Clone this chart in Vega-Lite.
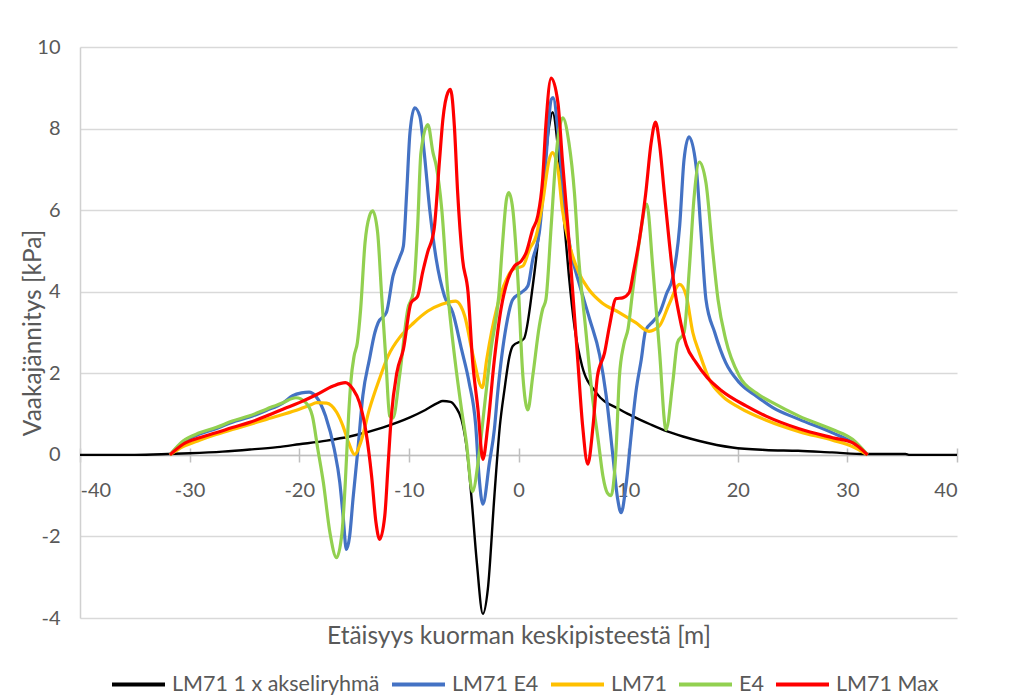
{
  "$schema": "https://vega.github.io/schema/vega-lite/v6.json",
  "width": 877,
  "height": 571,
  "autosize": {"type": "none"},
  "padding": {"left": 80, "top": 47, "right": 62, "bottom": 81},
  "background": "white",
  "config": {
    "font": "Lato",
    "view": {"stroke": null},
    "axis": {"labelFont": "Lato", "titleFont": "Lato"},
    "legend": {"labelFont": "Lato"}
  },
  "data": {"values": [
    {"s":"LM71 1 x akseliryhmä","x":-40,"y":0},{"s":"LM71 1 x akseliryhmä","x":-35,"y":0},{"s":"LM71 1 x akseliryhmä","x":-32,"y":0.02},{"s":"LM71 1 x akseliryhmä","x":-30,"y":0.04},{"s":"LM71 1 x akseliryhmä","x":-27,"y":0.08},{"s":"LM71 1 x akseliryhmä","x":-24.5,"y":0.13},{"s":"LM71 1 x akseliryhmä","x":-22,"y":0.19},{"s":"LM71 1 x akseliryhmä","x":-20,"y":0.26},{"s":"LM71 1 x akseliryhmä","x":-17.5,"y":0.35},{"s":"LM71 1 x akseliryhmä","x":-15.4,"y":0.45},{"s":"LM71 1 x akseliryhmä","x":-12.4,"y":0.67},{"s":"LM71 1 x akseliryhmä","x":-9.9,"y":0.92},{"s":"LM71 1 x akseliryhmä","x":-8.5,"y":1.1},{"s":"LM71 1 x akseliryhmä","x":-7.4,"y":1.27},{"s":"LM71 1 x akseliryhmä","x":-6.9,"y":1.32},{"s":"LM71 1 x akseliryhmä","x":-6.2,"y":1.3},{"s":"LM71 1 x akseliryhmä","x":-5.7,"y":1.16},{"s":"LM71 1 x akseliryhmä","x":-5.2,"y":0.87},{"s":"LM71 1 x akseliryhmä","x":-4.75,"y":0.22},{"s":"LM71 1 x akseliryhmä","x":-4.3,"y":-1.01},{"s":"LM71 1 x akseliryhmä","x":-3.8,"y":-2.64},{"s":"LM71 1 x akseliryhmä","x":-3.25,"y":-3.9},{"s":"LM71 1 x akseliryhmä","x":-2.8,"y":-3.3},{"s":"LM71 1 x akseliryhmä","x":-2.2,"y":-1.01},{"s":"LM71 1 x akseliryhmä","x":-1.7,"y":0.71},{"s":"LM71 1 x akseliryhmä","x":-1.28,"y":1.6},{"s":"LM71 1 x akseliryhmä","x":-0.82,"y":2.42},{"s":"LM71 1 x akseliryhmä","x":-0.52,"y":2.67},{"s":"LM71 1 x akseliryhmä","x":0.5,"y":2.85},{"s":"LM71 1 x akseliryhmä","x":1.3,"y":4.14},{"s":"LM71 1 x akseliryhmä","x":1.6,"y":4.79},{"s":"LM71 1 x akseliryhmä","x":2.2,"y":6.43},{"s":"LM71 1 x akseliryhmä","x":2.8,"y":8.06},{"s":"LM71 1 x akseliryhmä","x":3.1,"y":8.4},{"s":"LM71 1 x akseliryhmä","x":3.7,"y":7.24},{"s":"LM71 1 x akseliryhmä","x":4.2,"y":5.61},{"s":"LM71 1 x akseliryhmä","x":4.6,"y":4.38},{"s":"LM71 1 x akseliryhmä","x":5.1,"y":3.16},{"s":"LM71 1 x akseliryhmä","x":5.8,"y":2.18},{"s":"LM71 1 x akseliryhmä","x":7.1,"y":1.52},{"s":"LM71 1 x akseliryhmä","x":9.2,"y":1.12},{"s":"LM71 1 x akseliryhmä","x":10.4,"y":0.95},{"s":"LM71 1 x akseliryhmä","x":12,"y":0.75},{"s":"LM71 1 x akseliryhmä","x":13.5,"y":0.58},{"s":"LM71 1 x akseliryhmä","x":15,"y":0.45},{"s":"LM71 1 x akseliryhmä","x":16.5,"y":0.34},{"s":"LM71 1 x akseliryhmä","x":19.5,"y":0.18},{"s":"LM71 1 x akseliryhmä","x":22.5,"y":0.12},{"s":"LM71 1 x akseliryhmä","x":25.5,"y":0.1},{"s":"LM71 1 x akseliryhmä","x":28.6,"y":0.06},{"s":"LM71 1 x akseliryhmä","x":31.7,"y":0.02},{"s":"LM71 1 x akseliryhmä","x":35.3,"y":0.02},{"s":"LM71 1 x akseliryhmä","x":35.6,"y":0},{"s":"LM71 1 x akseliryhmä","x":40,"y":0},

    {"s":"LM71 E4","x":-31.8,"y":0},{"s":"LM71 E4","x":-30.6,"y":0.31},{"s":"LM71 E4","x":-29.1,"y":0.51},{"s":"LM71 E4","x":-27.6,"y":0.64},{"s":"LM71 E4","x":-26.1,"y":0.8},{"s":"LM71 E4","x":-24.6,"y":0.92},{"s":"LM71 E4","x":-23,"y":1.09},{"s":"LM71 E4","x":-21.5,"y":1.27},{"s":"LM71 E4","x":-20.6,"y":1.45},{"s":"LM71 E4","x":-19.8,"y":1.52},{"s":"LM71 E4","x":-19.1,"y":1.54},{"s":"LM71 E4","x":-18.5,"y":1.44},{"s":"LM71 E4","x":-17.6,"y":0.95},{"s":"LM71 E4","x":-16.8,"y":0.13},{"s":"LM71 E4","x":-16.3,"y":-0.68},{"s":"LM71 E4","x":-16,"y":-1.5},{"s":"LM71 E4","x":-15.7,"y":-2.32},{"s":"LM71 E4","x":-15.4,"y":-1.99},{"s":"LM71 E4","x":-15.1,"y":-1.09},{"s":"LM71 E4","x":-14.65,"y":0.13},{"s":"LM71 E4","x":-14.2,"y":1.45},{"s":"LM71 E4","x":-13.6,"y":2.34},{"s":"LM71 E4","x":-13.1,"y":3.0},{"s":"LM71 E4","x":-12.8,"y":3.24},{"s":"LM71 E4","x":-12.05,"y":3.49},{"s":"LM71 E4","x":-11.45,"y":4.38},{"s":"LM71 E4","x":-10.8,"y":4.87},{"s":"LM71 E4","x":-10.5,"y":5.12},{"s":"LM71 E4","x":-10.2,"y":6.43},{"s":"LM71 E4","x":-9.9,"y":7.9},{"s":"LM71 E4","x":-9.48,"y":8.51},{"s":"LM71 E4","x":-9.0,"y":8.3},{"s":"LM71 E4","x":-8.6,"y":7.41},{"s":"LM71 E4","x":-8.1,"y":6.02},{"s":"LM71 E4","x":-7.5,"y":4.79},{"s":"LM71 E4","x":-6.75,"y":3.89},{"s":"LM71 E4","x":-6.0,"y":3.49},{"s":"LM71 E4","x":-5.2,"y":2.59},{"s":"LM71 E4","x":-4.5,"y":1.77},{"s":"LM71 E4","x":-3.9,"y":0.71},{"s":"LM71 E4","x":-3.6,"y":-0.52},{"s":"LM71 E4","x":-3.25,"y":-1.21},{"s":"LM71 E4","x":-2.65,"y":-0.19},{"s":"LM71 E4","x":-2.2,"y":0.63},{"s":"LM71 E4","x":-1.9,"y":1.52},{"s":"LM71 E4","x":-1.12,"y":3.16},{"s":"LM71 E4","x":-0.52,"y":3.81},{"s":"LM71 E4","x":0.25,"y":3.98},{"s":"LM71 E4","x":0.85,"y":4.14},{"s":"LM71 E4","x":1.3,"y":4.79},{"s":"LM71 E4","x":1.9,"y":5.45},{"s":"LM71 E4","x":2.5,"y":7.24},{"s":"LM71 E4","x":2.98,"y":8.71},{"s":"LM71 E4","x":3.15,"y":8.76},{"s":"LM71 E4","x":3.7,"y":7.65},{"s":"LM71 E4","x":4.2,"y":6.02},{"s":"LM71 E4","x":4.8,"y":4.96},{"s":"LM71 E4","x":5.6,"y":4.14},{"s":"LM71 E4","x":6.5,"y":3.32},{"s":"LM71 E4","x":7.4,"y":2.45},{"s":"LM71 E4","x":8.0,"y":1.45},{"s":"LM71 E4","x":8.6,"y":0.0},{"s":"LM71 E4","x":9.05,"y":-1.09},{"s":"LM71 E4","x":9.36,"y":-1.42},{"s":"LM71 E4","x":9.8,"y":-0.76},{"s":"LM71 E4","x":10.3,"y":0.54},{"s":"LM71 E4","x":10.7,"y":1.52},{"s":"LM71 E4","x":11.2,"y":2.34},{"s":"LM71 E4","x":11.6,"y":3.05},{"s":"LM71 E4","x":12.3,"y":3.28},{"s":"LM71 E4","x":12.9,"y":3.5},{"s":"LM71 E4","x":13.5,"y":3.95},{"s":"LM71 E4","x":14.1,"y":4.38},{"s":"LM71 E4","x":14.7,"y":5.61},{"s":"LM71 E4","x":15.1,"y":7.24},{"s":"LM71 E4","x":15.55,"y":7.8},{"s":"LM71 E4","x":16.2,"y":7.08},{"s":"LM71 E4","x":16.65,"y":5.45},{"s":"LM71 E4","x":17.1,"y":3.81},{"s":"LM71 E4","x":17.9,"y":3.0},{"s":"LM71 E4","x":18.9,"y":2.26},{"s":"LM71 E4","x":20.15,"y":1.77},{"s":"LM71 E4","x":21.7,"y":1.44},{"s":"LM71 E4","x":23.2,"y":1.16},{"s":"LM71 E4","x":25.6,"y":0.87},{"s":"LM71 E4","x":28.65,"y":0.54},{"s":"LM71 E4","x":30.5,"y":0.3},{"s":"LM71 E4","x":31.84,"y":0},

    {"s":"LM71","x":-31.8,"y":0},{"s":"LM71","x":-30.6,"y":0.2},{"s":"LM71","x":-29.1,"y":0.36},{"s":"LM71","x":-27.6,"y":0.5},{"s":"LM71","x":-26.1,"y":0.62},{"s":"LM71","x":-24.6,"y":0.74},{"s":"LM71","x":-23,"y":0.87},{"s":"LM71","x":-21.5,"y":0.99},{"s":"LM71","x":-20,"y":1.12},{"s":"LM71","x":-19,"y":1.22},{"s":"LM71","x":-18.4,"y":1.28},{"s":"LM71","x":-17.5,"y":1.27},{"s":"LM71","x":-16.6,"y":1.05},{"s":"LM71","x":-16.0,"y":0.7},{"s":"LM71","x":-15.5,"y":0.3},{"s":"LM71","x":-14.95,"y":0.01},{"s":"LM71","x":-14.4,"y":0.3},{"s":"LM71","x":-13.6,"y":1.12},{"s":"LM71","x":-12.7,"y":1.85},{"s":"LM71","x":-11.9,"y":2.42},{"s":"LM71","x":-10.75,"y":2.91},{"s":"LM71","x":-9.55,"y":3.24},{"s":"LM71","x":-8.3,"y":3.52},{"s":"LM71","x":-7.0,"y":3.69},{"s":"LM71","x":-5.75,"y":3.77},{"s":"LM71","x":-4.9,"y":3.4},{"s":"LM71","x":-4.2,"y":2.5},{"s":"LM71","x":-3.3,"y":1.65},{"s":"LM71","x":-2.9,"y":2.34},{"s":"LM71","x":-2.0,"y":3.57},{"s":"LM71","x":-1.1,"y":4.3},{"s":"LM71","x":-0.52,"y":4.55},{"s":"LM71","x":0.4,"y":4.63},{"s":"LM71","x":1.0,"y":5.04},{"s":"LM71","x":1.6,"y":5.36},{"s":"LM71","x":2.2,"y":6.18},{"s":"LM71","x":2.8,"y":7.24},{"s":"LM71","x":3.1,"y":7.41},{"s":"LM71","x":3.6,"y":7.0},{"s":"LM71","x":4.0,"y":6.02},{"s":"LM71","x":4.6,"y":5.2},{"s":"LM71","x":5.5,"y":4.47},{"s":"LM71","x":6.4,"y":4.06},{"s":"LM71","x":7.6,"y":3.73},{"s":"LM71","x":9.2,"y":3.49},{"s":"LM71","x":10.7,"y":3.24},{"s":"LM71","x":11.9,"y":3.03},{"s":"LM71","x":12.85,"y":3.16},{"s":"LM71","x":13.75,"y":3.7},{"s":"LM71","x":14.7,"y":4.18},{"s":"LM71","x":15.3,"y":3.9},{"s":"LM71","x":15.9,"y":3.0},{"s":"LM71","x":16.5,"y":2.5},{"s":"LM71","x":17.4,"y":1.85},{"s":"LM71","x":18.6,"y":1.44},{"s":"LM71","x":20.15,"y":1.16},{"s":"LM71","x":22.6,"y":0.85},{"s":"LM71","x":25.6,"y":0.57},{"s":"LM71","x":28.65,"y":0.36},{"s":"LM71","x":30.5,"y":0.2},{"s":"LM71","x":31.84,"y":0},

    {"s":"E4","x":-31.8,"y":0},{"s":"E4","x":-30.6,"y":0.34},{"s":"E4","x":-29.1,"y":0.54},{"s":"E4","x":-27.6,"y":0.67},{"s":"E4","x":-26.1,"y":0.83},{"s":"E4","x":-24.6,"y":0.95},{"s":"E4","x":-23,"y":1.12},{"s":"E4","x":-21.5,"y":1.28},{"s":"E4","x":-20.3,"y":1.4},{"s":"E4","x":-19.4,"y":1.28},{"s":"E4","x":-18.8,"y":0.95},{"s":"E4","x":-18.3,"y":0.13},{"s":"E4","x":-17.8,"y":-0.68},{"s":"E4","x":-17.2,"y":-1.91},{"s":"E4","x":-16.6,"y":-2.52},{"s":"E4","x":-16.1,"y":-1.91},{"s":"E4","x":-15.8,"y":-0.68},{"s":"E4","x":-15.5,"y":0.95},{"s":"E4","x":-15.3,"y":1.77},{"s":"E4","x":-15.0,"y":2.42},{"s":"E4","x":-14.7,"y":2.75},{"s":"E4","x":-14.4,"y":3.57},{"s":"E4","x":-14.0,"y":5.2},{"s":"E4","x":-13.6,"y":5.85},{"s":"E4","x":-13.3,"y":5.98},{"s":"E4","x":-12.85,"y":5.45},{"s":"E4","x":-12.5,"y":3.98},{"s":"E4","x":-12.1,"y":2.34},{"s":"E4","x":-11.75,"y":0.95},{"s":"E4","x":-11.45,"y":0.9},{"s":"E4","x":-10.85,"y":1.93},{"s":"E4","x":-10.1,"y":3.57},{"s":"E4","x":-9.6,"y":3.98},{"s":"E4","x":-9.2,"y":5.61},{"s":"E4","x":-8.9,"y":7.41},{"s":"E4","x":-8.27,"y":8.1},{"s":"E4","x":-7.8,"y":7.41},{"s":"E4","x":-7.5,"y":7.08},{"s":"E4","x":-7.0,"y":6.02},{"s":"E4","x":-6.45,"y":3.98},{"s":"E4","x":-5.8,"y":2.34},{"s":"E4","x":-5.2,"y":1.12},{"s":"E4","x":-4.75,"y":0.3},{"s":"E4","x":-4.2,"y":-0.9},{"s":"E4","x":-3.6,"y":0.0},{"s":"E4","x":-3.1,"y":1.2},{"s":"E4","x":-2.5,"y":2.6},{"s":"E4","x":-1.8,"y":3.9},{"s":"E4","x":-1.45,"y":5.2},{"s":"E4","x":-1.1,"y":6.26},{"s":"E4","x":-0.88,"y":6.43},{"s":"E4","x":-0.52,"y":6.02},{"s":"E4","x":-0.07,"y":4.38},{"s":"E4","x":0.4,"y":1.93},{"s":"E4","x":0.85,"y":1.1},{"s":"E4","x":1.3,"y":1.93},{"s":"E4","x":1.9,"y":3.16},{"s":"E4","x":2.2,"y":3.57},{"s":"E4","x":2.5,"y":3.81},{"s":"E4","x":2.98,"y":5.61},{"s":"E4","x":3.4,"y":7.24},{"s":"E4","x":4.04,"y":8.26},{"s":"E4","x":4.6,"y":7.65},{"s":"E4","x":5.1,"y":6.43},{"s":"E4","x":5.5,"y":4.79},{"s":"E4","x":6.1,"y":3.16},{"s":"E4","x":6.7,"y":1.52},{"s":"E4","x":7.3,"y":0.3},{"s":"E4","x":7.7,"y":-0.52},{"s":"E4","x":8.1,"y":-0.93},{"s":"E4","x":8.45,"y":-1.0},{"s":"E4","x":8.9,"y":0.13},{"s":"E4","x":9.2,"y":1.9},{"s":"E4","x":9.6,"y":2.7},{"s":"E4","x":10.0,"y":3.1},{"s":"E4","x":10.4,"y":3.98},{"s":"E4","x":11.0,"y":5.2},{"s":"E4","x":11.7,"y":6.15},{"s":"E4","x":12.24,"y":4.63},{"s":"E4","x":12.85,"y":2.59},{"s":"E4","x":13.46,"y":0.62},{"s":"E4","x":14.07,"y":1.77},{"s":"E4","x":14.5,"y":2.75},{"s":"E4","x":15.1,"y":3.0},{"s":"E4","x":15.6,"y":4.63},{"s":"E4","x":16.0,"y":6.26},{"s":"E4","x":16.5,"y":7.18},{"s":"E4","x":17.1,"y":6.67},{"s":"E4","x":17.7,"y":5.04},{"s":"E4","x":18.2,"y":3.81},{"s":"E4","x":18.9,"y":2.83},{"s":"E4","x":20.15,"y":1.93},{"s":"E4","x":21.67,"y":1.52},{"s":"E4","x":23.18,"y":1.28},{"s":"E4","x":25.6,"y":0.95},{"s":"E4","x":28.65,"y":0.62},{"s":"E4","x":30.47,"y":0.38},{"s":"E4","x":31.84,"y":0},

    {"s":"LM71 Max","x":-31.8,"y":0},{"s":"LM71 Max","x":-30.6,"y":0.26},{"s":"LM71 Max","x":-29.1,"y":0.42},{"s":"LM71 Max","x":-27.6,"y":0.54},{"s":"LM71 Max","x":-26.1,"y":0.67},{"s":"LM71 Max","x":-24.6,"y":0.79},{"s":"LM71 Max","x":-23,"y":0.95},{"s":"LM71 Max","x":-21.5,"y":1.12},{"s":"LM71 Max","x":-20,"y":1.28},{"s":"LM71 Max","x":-18.4,"y":1.48},{"s":"LM71 Max","x":-16.9,"y":1.69},{"s":"LM71 Max","x":-15.8,"y":1.77},{"s":"LM71 Max","x":-15.1,"y":1.61},{"s":"LM71 Max","x":-14.5,"y":1.28},{"s":"LM71 Max","x":-13.9,"y":0.54},{"s":"LM71 Max","x":-13.4,"y":-0.52},{"s":"LM71 Max","x":-13.0,"y":-1.66},{"s":"LM71 Max","x":-12.67,"y":-2.07},{"s":"LM71 Max","x":-12.2,"y":-1.5},{"s":"LM71 Max","x":-11.9,"y":-0.27},{"s":"LM71 Max","x":-11.6,"y":0.95},{"s":"LM71 Max","x":-11.1,"y":2.01},{"s":"LM71 Max","x":-10.5,"y":2.59},{"s":"LM71 Max","x":-9.8,"y":3.73},{"s":"LM71 Max","x":-9.2,"y":3.89},{"s":"LM71 Max","x":-8.75,"y":4.47},{"s":"LM71 Max","x":-8.3,"y":4.96},{"s":"LM71 Max","x":-7.7,"y":5.53},{"s":"LM71 Max","x":-7.2,"y":7.24},{"s":"LM71 Max","x":-6.9,"y":8.22},{"s":"LM71 Max","x":-6.45,"y":8.88},{"s":"LM71 Max","x":-6.2,"y":8.96},{"s":"LM71 Max","x":-5.85,"y":8.06},{"s":"LM71 Max","x":-5.55,"y":6.43},{"s":"LM71 Max","x":-5.1,"y":4.79},{"s":"LM71 Max","x":-4.6,"y":3.98},{"s":"LM71 Max","x":-4.2,"y":2.34},{"s":"LM71 Max","x":-3.7,"y":1.12},{"s":"LM71 Max","x":-3.25,"y":-0.11},{"s":"LM71 Max","x":-2.8,"y":0.71},{"s":"LM71 Max","x":-2.2,"y":2.34},{"s":"LM71 Max","x":-1.6,"y":3.57},{"s":"LM71 Max","x":-0.97,"y":4.3},{"s":"LM71 Max","x":-0.36,"y":4.63},{"s":"LM71 Max","x":0.25,"y":4.75},{"s":"LM71 Max","x":0.7,"y":4.96},{"s":"LM71 Max","x":1.3,"y":5.53},{"s":"LM71 Max","x":1.75,"y":5.85},{"s":"LM71 Max","x":2.2,"y":6.75},{"s":"LM71 Max","x":2.5,"y":8.1},{"s":"LM71 Max","x":2.98,"y":9.24},{"s":"LM71 Max","x":3.6,"y":8.63},{"s":"LM71 Max","x":4.0,"y":7.24},{"s":"LM71 Max","x":4.5,"y":5.61},{"s":"LM71 Max","x":4.95,"y":3.98},{"s":"LM71 Max","x":5.4,"y":2.34},{"s":"LM71 Max","x":5.85,"y":0.71},{"s":"LM71 Max","x":6.32,"y":-0.23},{"s":"LM71 Max","x":6.8,"y":0.71},{"s":"LM71 Max","x":7.2,"y":1.93},{"s":"LM71 Max","x":7.85,"y":2.5},{"s":"LM71 Max","x":8.3,"y":3.16},{"s":"LM71 Max","x":8.9,"y":3.83},{"s":"LM71 Max","x":9.5,"y":3.85},{"s":"LM71 Max","x":10.1,"y":3.98},{"s":"LM71 Max","x":10.5,"y":4.5},{"s":"LM71 Max","x":11.03,"y":5.28},{"s":"LM71 Max","x":11.6,"y":6.4},{"s":"LM71 Max","x":12.1,"y":7.65},{"s":"LM71 Max","x":12.5,"y":8.16},{"s":"LM71 Max","x":12.85,"y":7.65},{"s":"LM71 Max","x":13.3,"y":6.43},{"s":"LM71 Max","x":13.76,"y":5.2},{"s":"LM71 Max","x":14.2,"y":4.14},{"s":"LM71 Max","x":14.68,"y":3.4},{"s":"LM71 Max","x":15.3,"y":2.7},{"s":"LM71 Max","x":16.2,"y":2.26},{"s":"LM71 Max","x":17.2,"y":1.9},{"s":"LM71 Max","x":18.5,"y":1.58},{"s":"LM71 Max","x":20.76,"y":1.2},{"s":"LM71 Max","x":22.58,"y":0.95},{"s":"LM71 Max","x":25.6,"y":0.64},{"s":"LM71 Max","x":28.65,"y":0.42},{"s":"LM71 Max","x":30.47,"y":0.3},{"s":"LM71 Max","x":31.84,"y":0}
  ]},
  "encoding": {
    "y": {
      "field": "y",
      "type": "quantitative",
      "scale": {"domain": [-4, 10], "nice": false, "zero": false},
      "axis": {
        "values": [-4, -2, 0, 2, 4, 6, 8, 10],
        "labelExpr": "'' + datum.value",
        "grid": true,
        "gridColor": "#d9d9d9",
        "gridWidth": 1.5,
        "domain": true,
        "domainColor": "#d0d0d0",
        "domainWidth": 1.5,
        "ticks": false,
        "tickSize": 0,
        "labelPadding": 20,
        "labelFontSize": 20,
        "labelColor": "#595959",
        "title": "Vaakajännitys [kPa]",
        "titleFontSize": 24.5,
        "titleFontWeight": "normal",
        "titleColor": "#595959",
        "titleX": -35
      }
    },
    "color": {
      "field": "s",
      "type": "nominal",
      "scale": {
        "domain": ["LM71 1 x akseliryhmä", "LM71 E4", "LM71", "E4", "LM71 Max"],
        "range": ["#000000", "#4472C4", "#FFC000", "#92D050", "#FF0000"]
      },
      "legend": {
        "orient": "none",
        "legendX": 30,
        "legendY": 609,
        "direction": "horizontal",
        "title": null,
        "symbolType": "stroke",
        "symbolSize": 2809,
        "symbolStrokeWidth": 4,
        "labelFontSize": 21.5,
        "labelColor": "#595959",
        "labelOffset": 5,
        "labelLimit": 400,
        "columnPadding": 4
      }
    }
  },
  "layer": [
    {
      "transform": [{"filter": "datum.s === 'LM71 1 x akseliryhmä'"}],
      "mark": {"type": "line", "strokeWidth": 2.4, "interpolate": "monotone"},
      "encoding": {
        "x": {
          "field": "x",
          "type": "quantitative",
          "scale": {"domain": [-40, 40], "nice": false},
          "axis": {
            "orient": "bottom",
            "offset": -163,
            "values": [-40, -30, -20, -10, 0, 10, 20, 30, 40],
            "labelExpr": "'' + datum.value",
            "grid": false,
            "domainColor": "#bfbfbf",
            "domainWidth": 1.5,
            "tickColor": "#bfbfbf",
            "tickWidth": 1.5,
            "tickSize": 7,
            "labelPadding": 18,
            "labelFontSize": 20,
            "labelColor": "#595959",
            "title": "Etäisyys kuorman keskipisteestä [m]",
            "titleFontSize": 24.5,
            "titleFontWeight": "normal",
            "titleColor": "#595959",
            "titleBaseline": "middle",
            "titleY": 181
          }
        }
      }
    },
    {
      "transform": [{"filter": "datum.s !== 'LM71 1 x akseliryhmä'"}],
      "mark": {"type": "line", "strokeWidth": 3.2, "interpolate": "monotone"},
      "encoding": {
        "x": {
          "field": "x",
          "type": "quantitative",
          "scale": {"domain": [-40, 40], "nice": false},
          "axis": {
            "orient": "top",
            "offset": -408,
            "values": [-40, -30, -20, -10, 0, 10, 20, 30, 40],
            "grid": false,
            "domain": false,
            "labels": false,
            "title": null,
            "tickColor": "#bfbfbf",
            "tickWidth": 1.5,
            "tickSize": 7
          }
        }
      }
    }
  ],
  "resolve": {"axis": {"x": "independent"}}
}
